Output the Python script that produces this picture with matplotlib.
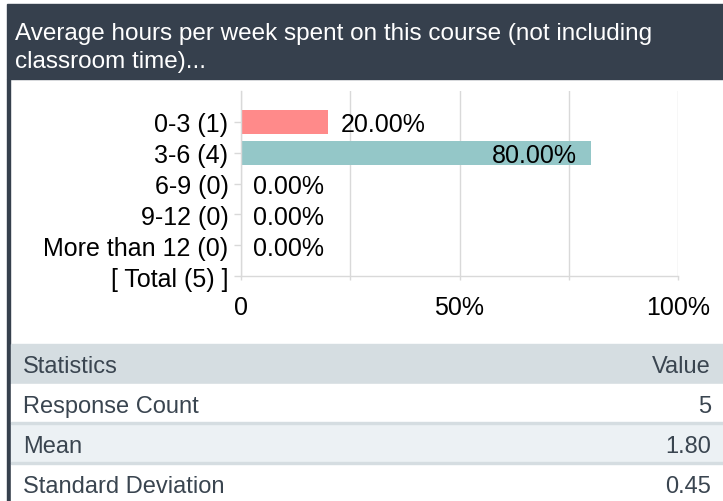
import matplotlib
matplotlib.use("Agg")
import matplotlib.pyplot as plt
from matplotlib.patches import Rectangle

plt.rcParams["font.family"] = ["Liberation Sans", "DejaVu Sans"]

# ── Datos ────────────────────────────────────────────────────────────────────
TITLE = "Average hours per week spent on this course (not including\nclassroom time)..."
categories = ["0-3 (1)", "3-6 (4)", "6-9 (0)", "9-12 (0)", "More than 12 (0)", "[ Total (5) ]"]
percents = [20.0, 80.0, 0.0, 0.0, 0.0]
bar_colors = ["#FF8A8A", "#94C7C8"]
x_ticks = [0, 25, 50, 75, 100]
x_labels = ["0", "", "50%", "", "100%"]

stat_names = ["Response Count", "Mean", "Standard Deviation"]
stat_values = ["5", "1.80", "0.45"]

W, H = 723, 502
HEADER_BG = "#36404D"
GRID = "#D9D9D9"
TABLE_HEAD = "#D5DDE1"
TABLE_ALT = "#ECF1F4"
TABLE_TEXT = "#3A4550"


def fx(px):
    return px / W


def fy(py):
    return 1 - py / H


fig = plt.figure(figsize=(W / 100, H / 100), dpi=100, facecolor="white")

# ── Cabecera ─────────────────────────────────────────────────────────────────
fig.patches.append(Rectangle((fx(7), fy(80)), fx(W - 7), 75 / H,
                             transform=fig.transFigure, color=HEADER_BG, zorder=0))
fig.patches.append(Rectangle((fx(7), 0), 2.5 / W, fy(80),
                             transform=fig.transFigure, color=HEADER_BG, zorder=0))
for i, line in enumerate(TITLE.split("\n")):
    fig.text(fx(15), fy(40 + i * 28), line, color="white", fontsize=17.5,
             ha="left", va="baseline")

# ── Gráfico de barras ────────────────────────────────────────────────────────
ax = fig.add_axes([fx(241), fy(277), fx(678 - 241), (277 - 92) / H])
ax.set_facecolor("white")
ypos = list(range(len(categories)))
vals = percents + [0]
cols = [bar_colors[i % len(bar_colors)] for i in range(len(vals))]
ax.barh(ypos, vals, height=0.78, color=cols, zorder=2)

for y, v in zip(ypos[:-1], percents):
    if v > 50:
        ax.annotate(f"{v:.2f}%", (v, y), xytext=(-10, 0), textcoords="offset points",
                    ha="right", va="center_baseline", fontsize=18, zorder=3)
    else:
        ax.annotate(f"{v:.2f}%", (v, y), xytext=(9, 0), textcoords="offset points",
                    ha="left", va="center_baseline", fontsize=18, zorder=3)

ax.set_xlim(0, 100)
ax.set_ylim(len(categories) - 1, -1)
ax.set_yticks(ypos)
ax.set_yticklabels(categories, fontsize=18)
ax.set_xticks(x_ticks)
ax.set_xticklabels(x_labels, fontsize=18)
ax.tick_params(axis="y", length=5, width=1, color=GRID, pad=4)
ax.tick_params(axis="x", length=3, width=1, color=GRID, pad=11)
ax.grid(axis="x", color=GRID, linewidth=1, zorder=0)
for s in ["top", "right"]:
    ax.spines[s].set_visible(False)
for s in ["left", "bottom"]:
    ax.spines[s].set_color(GRID)
    ax.spines[s].set_linewidth(1)

# ── Tabla de estadísticas ────────────────────────────────────────────────────
rows = [("Statistics", "Value")] + list(zip(stat_names, stat_values))
row_tops = [345, 385, 425, 465]
row_bottoms = [385, 423, 463, 502]
baselines = [373, 413, 453, 493]
for i, ((name, val), top, bot, base) in enumerate(zip(rows, row_tops, row_bottoms, baselines)):
    if i == 0:
        bg = TABLE_HEAD
    elif i % 2 == 0:
        bg = TABLE_ALT
    else:
        bg = "white"
    fig.patches.append(Rectangle((fx(11), fy(bot)), fx(W - 11), (bot - top) / H,
                                 transform=fig.transFigure, color=bg, zorder=0))
    if i > 1:
        fig.patches.append(Rectangle((fx(11), fy(top)), fx(W - 11), 2 / H,
                                     transform=fig.transFigure, color=TABLE_HEAD, zorder=0))
    fig.text(fx(23), fy(base), name, color=TABLE_TEXT, fontsize=17, ha="left", va="baseline")
    fig.text(fx(711), fy(base), val, color=TABLE_TEXT, fontsize=17, ha="right", va="baseline")

fig.savefig("out.png", dpi=100, facecolor="white")
